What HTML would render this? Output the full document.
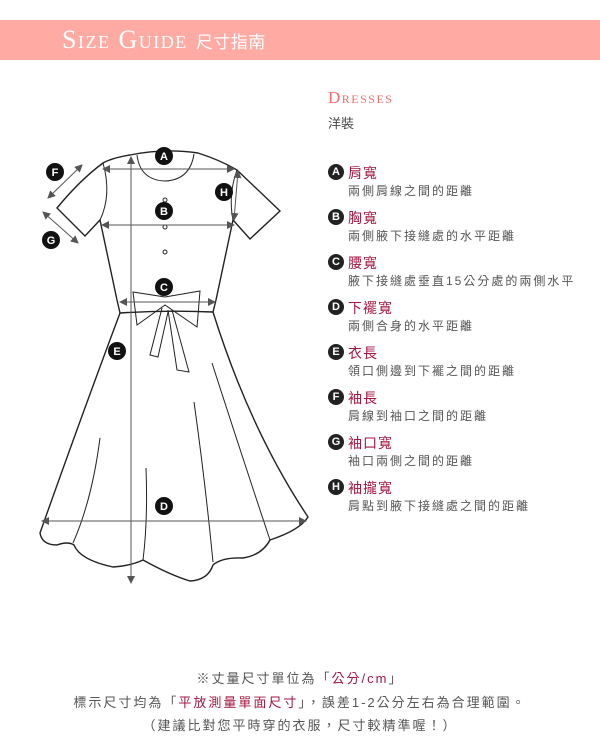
<!DOCTYPE html>
<html><head><meta charset="utf-8"><style>
body{margin:0;width:600px;height:750px;background:#fff;position:relative;overflow:hidden;font-family:"Liberation Sans","Noto Sans CJK TC",sans-serif;}
.banner{position:absolute;left:0;top:20px;width:600px;height:40px;background:#ffaaa3;}
.bt{position:absolute;left:62px;top:25px;color:#fff;font-family:"Liberation Serif","Noto Sans CJK TC",serif;font-size:26px;letter-spacing:1.5px;font-variant:small-caps;white-space:nowrap;line-height:30px}
.bt span{font-family:"Liberation Sans","Noto Sans CJK TC",sans-serif;font-size:17px;letter-spacing:0.5px}
.t{position:absolute;white-space:nowrap;}
.ttl{color:#a3163f;font-size:14px;left:348px;letter-spacing:1px}
.dsc{color:#555;font-size:12px;left:348px;letter-spacing:2px}
.c{position:absolute;left:328px;width:16px;height:16px;border-radius:50%;background:#222;color:#fff;font-size:11px;text-align:center;line-height:16px;font-weight:bold}
.bot{position:absolute;left:0;width:600px;text-align:center;color:#555;font-size:13px;letter-spacing:2px}
.r{color:#a3163f}
</style></head><body>
<div class="banner"></div>
<div class="bt">Size Guide <span>尺寸指南</span></div>
<div class="t" style="left:328px;top:88px;color:#f26c6c;font-family:'Liberation Serif',serif;font-size:17px;font-variant:small-caps;letter-spacing:1.5px">Dresses</div>
<div class="t" style="left:328px;top:113px;color:#444;font-size:13px">洋裝</div>

<div class="c" style="top:164px">A</div><div class="t ttl" style="top:163px">肩寬</div><div class="t dsc" style="top:182px">兩側肩線之間的距離</div>
<div class="c" style="top:209px">B</div><div class="t ttl" style="top:208px">胸寬</div><div class="t dsc" style="top:227px">兩側腋下接縫處的水平距離</div>
<div class="c" style="top:254px">C</div><div class="t ttl" style="top:253px">腰寬</div><div class="t dsc" style="top:272px">腋下接縫處垂直15公分處的兩側水平</div>
<div class="c" style="top:299px">D</div><div class="t ttl" style="top:298px">下襬寬</div><div class="t dsc" style="top:317px">兩側合身的水平距離</div>
<div class="c" style="top:344px">E</div><div class="t ttl" style="top:343px">衣長</div><div class="t dsc" style="top:362px">領口側邊到下襬之間的距離</div>
<div class="c" style="top:389px">F</div><div class="t ttl" style="top:388px">袖長</div><div class="t dsc" style="top:407px">肩線到袖口之間的距離</div>
<div class="c" style="top:434px">G</div><div class="t ttl" style="top:433px">袖口寬</div><div class="t dsc" style="top:452px">袖口兩側之間的距離</div>
<div class="c" style="top:479px">H</div><div class="t ttl" style="top:478px">袖攏寬</div><div class="t dsc" style="top:497px">肩點到腋下接縫處之間的距離</div>

<svg style="position:absolute;left:0;top:0" width="600" height="750">
<defs><marker id="ar" markerWidth="8" markerHeight="8" refX="7" refY="4" orient="auto-start-reverse" markerUnits="userSpaceOnUse"><path d="M0,0 L8,4 L0,8z" fill="#555"/></marker></defs>
<g fill="none" stroke="#222" stroke-width="1.4">
<path d="M130,155 Q164,148 198,153"/>
<path d="M137,155 Q140,180 165,181 Q190,180 194,154" stroke-width="1"/>
<path d="M130,155 Q112,158 103,163 Q80,180 57,208 L85,236 L100,220 L117,300"/>
<path d="M103,163 Q112,195 100,220" stroke-width="1"/>
<path d="M198,153 Q220,160 237,170 L280,211 L250,239 L233,220 L216,300"/>
<path d="M237,170 Q228,195 233,220" stroke-width="1"/>
<path d="M117,300 L120,313 Q165,310 213,312 L216,300"/>
<path d="M120,313 Q80,420 40,533 Q42,545 57,545 Q68,541 74,545 Q80,560 113,567 Q130,566 143,560 Q170,575 190,581 Q208,580 213,565 Q222,557 243,558 Q262,555 270,540 Q300,530 308,517 Q250,430 213,312"/>
</g>
<g fill="none" stroke="#222" stroke-width="1">
<path d="M100,438 Q92,500 73,543"/>
<path d="M146,468 Q148,520 143,560"/>
<path d="M194,402 Q205,480 213,562"/>
<path d="M212,363 Q240,450 270,540"/>
<path d="M165,297 L133,292 L137,325 L165,305 L197,327 L200,291 Z"/>
<path d="M162,308 L150,355 L158,357 L168,312"/>
<path d="M168,310 L177,370 L189,372 L172,310"/>
<circle cx="165" cy="200" r="2"/><circle cx="165" cy="227" r="2"/><circle cx="165" cy="252" r="2"/>
</g>
<g stroke="#555" stroke-width="1" marker-start="url(#ar)" marker-end="url(#ar)">
<line x1="131" y1="157" x2="131" y2="583"/>
<line x1="103" y1="169" x2="234" y2="169"/>
<line x1="102" y1="225" x2="234" y2="225"/>
<line x1="120" y1="302" x2="215" y2="302"/>
<line x1="42" y1="521" x2="306" y2="521"/>
<line x1="238" y1="171" x2="234" y2="220"/>
<line x1="82" y1="165" x2="48" y2="198"/>
<line x1="43" y1="212" x2="78" y2="243"/>
</g>
<g font-family="Liberation Sans,sans-serif" font-size="11" font-weight="bold" fill="#fff" text-anchor="middle">
<circle cx="164" cy="156" r="9" fill="#111"/><text x="164" y="160">A</text>
<circle cx="164" cy="211" r="9" fill="#111"/><text x="164" y="215">B</text>
<circle cx="164" cy="287" r="9" fill="#111"/><text x="164" y="291">C</text>
<circle cx="164" cy="506" r="9" fill="#111"/><text x="164" y="510">D</text>
<circle cx="117" cy="351" r="9" fill="#111"/><text x="117" y="355">E</text>
<circle cx="55" cy="172" r="9" fill="#111"/><text x="55" y="176">F</text>
<circle cx="51" cy="240" r="9" fill="#111"/><text x="51" y="244">G</text>
<circle cx="224" cy="192" r="9" fill="#111"/><text x="224" y="196">H</text>
</g>
</svg>

<div class="bot" style="top:668px">※丈量尺寸單位為「<span class="r">公分/cm</span>」</div>
<div class="bot" style="top:692px">標示尺寸均為「<span class="r">平放測量單面尺寸</span>」，誤差1-2公分左右為合理範圍。</div>
<div class="bot" style="top:715px">（建議比對您平時穿的衣服，尺寸較精準喔！）</div>
</body></html>
